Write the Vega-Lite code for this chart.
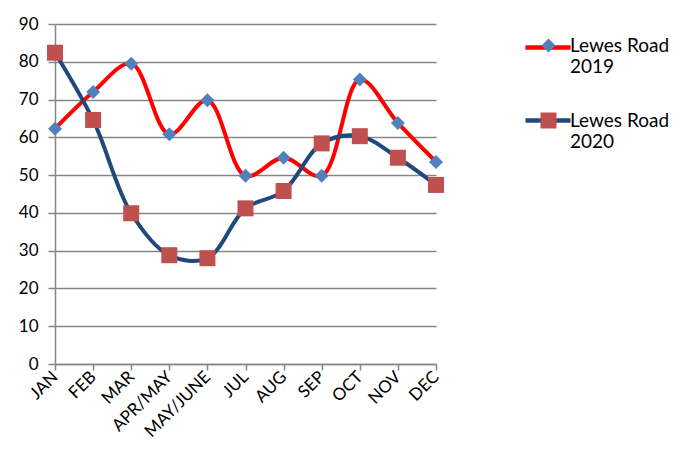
{
  "$schema": "https://vega.github.io/schema/vega-lite/v6.json",
  "width": 381,
  "height": 340,
  "autosize": "none",
  "padding": {"left": 55, "top": 24, "right": 264, "bottom": 110},
  "background": "white",
  "data": {
    "values": [
      {"month": "JAN", "year": "2019", "series": "Lewes Road 2019", "value": 62.3},
      {"month": "FEB", "year": "2019", "series": "Lewes Road 2019", "value": 72.0},
      {"month": "MAR", "year": "2019", "series": "Lewes Road 2019", "value": 79.5},
      {"month": "APR/MAY", "year": "2019", "series": "Lewes Road 2019", "value": 60.8},
      {"month": "MAY/JUNE", "year": "2019", "series": "Lewes Road 2019", "value": 69.8},
      {"month": "JUL", "year": "2019", "series": "Lewes Road 2019", "value": 49.8},
      {"month": "AUG", "year": "2019", "series": "Lewes Road 2019", "value": 54.6},
      {"month": "SEP", "year": "2019", "series": "Lewes Road 2019", "value": 49.8},
      {"month": "OCT", "year": "2019", "series": "Lewes Road 2019", "value": 75.3},
      {"month": "NOV", "year": "2019", "series": "Lewes Road 2019", "value": 63.8},
      {"month": "DEC", "year": "2019", "series": "Lewes Road 2019", "value": 53.5},
      {"month": "JAN", "year": "2020", "series": "Lewes Road 2020", "value": 82.4},
      {"month": "FEB", "year": "2020", "series": "Lewes Road 2020", "value": 64.6},
      {"month": "MAR", "year": "2020", "series": "Lewes Road 2020", "value": 39.9},
      {"month": "APR/MAY", "year": "2020", "series": "Lewes Road 2020", "value": 28.8},
      {"month": "MAY/JUNE", "year": "2020", "series": "Lewes Road 2020", "value": 28.0},
      {"month": "JUL", "year": "2020", "series": "Lewes Road 2020", "value": 41.2},
      {"month": "AUG", "year": "2020", "series": "Lewes Road 2020", "value": 45.8},
      {"month": "SEP", "year": "2020", "series": "Lewes Road 2020", "value": 58.4},
      {"month": "OCT", "year": "2020", "series": "Lewes Road 2020", "value": 60.3},
      {"month": "NOV", "year": "2020", "series": "Lewes Road 2020", "value": 54.6},
      {"month": "DEC", "year": "2020", "series": "Lewes Road 2020", "value": 47.4}
    ]
  },
  "encoding": {
    "x": {
      "field": "month",
      "type": "ordinal",
      "sort": ["JAN", "FEB", "MAR", "APR/MAY", "MAY/JUNE", "JUL", "AUG", "SEP", "OCT", "NOV", "DEC"],
      "scale": {"type": "point", "padding": 0},
      "title": null,
      "axis": {
        "labelAngle": -45,
        "labelAlign": "right",
        "labelBaseline": "middle",
        "labelPadding": 4,
        "tickSize": 6,
        "domain": true,
        "grid": false
      }
    },
    "y": {
      "field": "value",
      "type": "quantitative",
      "scale": {"domain": [0, 90], "nice": false},
      "title": null,
      "axis": {
        "values": [0, 10, 20, 30, 40, 50, 60, 70, 80, 90],
        "tickSize": 7,
        "labelPadding": 10,
        "grid": true
      }
    }
  },
  "layer": [
    {
      "mark": {"type": "line", "interpolate": "catmull-rom", "strokeWidth": 4},
      "encoding": {
        "stroke": {
          "field": "year",
          "type": "nominal",
          "scale": {"domain": ["2019", "2020"], "range": ["#ff0000", "#1f497d"]},
          "legend": {
            "title": null,
            "orient": "none",
            "legendX": 468,
            "legendY": -1.5,
            "padding": 0,
            "symbolType": "stroke",
            "symbolSize": 2025,
            "symbolStrokeWidth": 4.5,
            "labelColor": "transparent",
            "labelExpr": "''",
            "rowPadding": 39
          }
        }
      }
    },
    {
      "mark": {"type": "point", "filled": true, "opacity": 1},
      "encoding": {
        "fill": {
          "field": "series",
          "type": "nominal",
          "scale": {"domain": ["Lewes Road 2019", "Lewes Road 2020"], "range": ["#4f81bd", "#c0504d"]},
          "legend": {
            "title": null,
            "orient": "none",
            "legendX": 484,
            "legendY": 12,
            "padding": 0,
            "labelExpr": "[slice(datum.label, 0, 10), slice(datum.label, 11)]",
            "labelBaseline": "middle",
            "labelFont": "Lato",
            "labelFontSize": 19,
            "labelOffset": 12,
            "labelColor": "#000000",
            "rowPadding": 32
          }
        },
        "shape": {
          "field": "series",
          "type": "nominal",
          "scale": {"domain": ["Lewes Road 2019", "Lewes Road 2020"], "range": ["diamond", "square"]}
        },
        "size": {
          "field": "series",
          "type": "nominal",
          "scale": {"domain": ["Lewes Road 2019", "Lewes Road 2020"], "range": [196, 256]}
        }
      }
    }
  ],
  "config": {
    "view": {"stroke": null},
    "font": "Lato",
    "axis": {
      "labelFont": "Lato",
      "labelFontSize": 17,
      "labelColor": "#000000",
      "domainColor": "#868686",
      "domainWidth": 1.5,
      "tickColor": "#868686",
      "tickWidth": 1.5,
      "gridColor": "#868686",
      "gridWidth": 1.5,
      "gridOpacity": 1
    }
  }
}
